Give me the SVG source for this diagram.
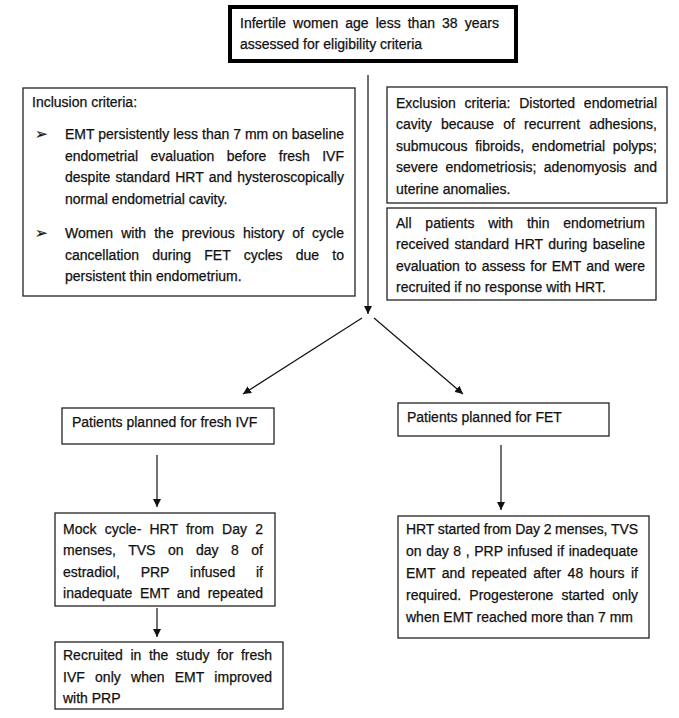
<svg xmlns="http://www.w3.org/2000/svg" width="679" height="718" viewBox="0 0 679 718">
<style>
text{font-family:"Liberation Sans",Arial,sans-serif;font-size:14px;fill:#111;stroke:#111;stroke-width:0.25}
.b{font-family:"DejaVu Sans",sans-serif;font-size:15px}
.box{fill:#fff;stroke:#222;stroke-width:1.3}
.thick{fill:#fff;stroke:#000;stroke-width:4}
.c{stroke:#111;stroke-width:1.2;fill:none}
</style>
<defs>
<marker id="ah" viewBox="0 0 10 10" refX="10" refY="5" markerWidth="8" markerHeight="8" markerUnits="userSpaceOnUse" orient="auto">
<path d="M0,0 L10,5 L0,10 z" fill="#111"/>
</marker>
</defs>
<rect width="679" height="718" fill="#fff"/>
<g id="connectors">
<line class="c" x1="368" y1="75" x2="368" y2="314" marker-end="url(#ah)"/>
<line class="c" x1="362" y1="318" x2="243" y2="394" marker-end="url(#ah)"/>
<line class="c" x1="374" y1="318" x2="463" y2="394" marker-end="url(#ah)"/>
<line class="c" x1="157" y1="455" x2="157" y2="507" marker-end="url(#ah)"/>
<line class="c" x1="157" y1="608" x2="157" y2="637" marker-end="url(#ah)"/>
<line class="c" x1="501" y1="445" x2="501" y2="510" marker-end="url(#ah)"/>
</g>
<g id="start">
<rect class="thick" x="230" y="7" width="286" height="54"/>
<text x="240" y="28" word-spacing="3.2" textLength="259" lengthAdjust="spacing">Infertile women age less than 38 years</text>
<text x="240" y="49">assessed for eligibility criteria</text>
</g>
<g id="inclusion">
<rect class="box" x="23" y="88" width="332" height="208"/>
<text x="32" y="107">Inclusion criteria:</text>
<text class="b" x="35" y="139">➢</text>
<text x="65" y="139" textLength="279" lengthAdjust="spacing">EMT persistently less than 7 mm on baseline</text>
<text x="65" y="161" word-spacing="8.5" textLength="279" lengthAdjust="spacing">endometrial evaluation before fresh IVF</text>
<text x="65" y="182" word-spacing="1.3" textLength="279" lengthAdjust="spacing">despite standard HRT and hysteroscopically</text>
<text x="65" y="204">normal endometrial cavity.</text>
<text class="b" x="35" y="238">➢</text>
<text x="65" y="238" word-spacing="4.2" textLength="279" lengthAdjust="spacing">Women with the previous history of cycle</text>
<text x="65" y="260" word-spacing="9.3" textLength="279" lengthAdjust="spacing">cancellation during FET cycles due to</text>
<text x="65" y="281">persistent thin endometrium.</text>
</g>
<g id="exclusion">
<rect class="box" x="387" y="87" width="280" height="116"/>
<text x="396" y="108" word-spacing="4.8" textLength="261" lengthAdjust="spacing">Exclusion criteria: Distorted endometrial</text>
<text x="396" y="129" word-spacing="5.3" textLength="261" lengthAdjust="spacing">cavity because of recurrent adhesions,</text>
<text x="396" y="151" word-spacing="3.7" textLength="261" lengthAdjust="spacing">submucous fibroids, endometrial polyps;</text>
<text x="396" y="172" word-spacing="3.5" textLength="261" lengthAdjust="spacing">severe endometriosis; adenomyosis and</text>
<text x="396" y="194">uterine anomalies.</text>
</g>
<g id="hrt-note">
<rect class="box" x="387" y="208" width="269" height="92"/>
<text x="396" y="228" word-spacing="9.9" textLength="249" lengthAdjust="spacing">All patients with thin endometrium</text>
<text x="396" y="249" word-spacing="1.6" textLength="249" lengthAdjust="spacing">received standard HRT during baseline</text>
<text x="396" y="271" word-spacing="1.2" textLength="249" lengthAdjust="spacing">evaluation to assess for EMT and were</text>
<text x="396" y="292">recruited if no response with HRT.</text>
</g>
<g id="fresh-ivf">
<rect class="box" x="62" y="408" width="212" height="36"/>
<text x="72" y="427">Patients planned for fresh IVF</text>
</g>
<g id="fet">
<rect class="box" x="398" y="403" width="211" height="33"/>
<text x="407" y="422">Patients planned for FET</text>
</g>
<g id="mock-cycle">
<rect class="box" x="55" y="513" width="220" height="93"/>
<text x="63" y="534" word-spacing="4.2" textLength="200" lengthAdjust="spacing">Mock cycle- HRT from Day 2</text>
<text x="63" y="555" word-spacing="8.6" textLength="200" lengthAdjust="spacing">menses, TVS on day 8 of</text>
<text x="63" y="577" word-spacing="16.9" textLength="200" lengthAdjust="spacing">estradiol, PRP infused if</text>
<text x="63" y="598" word-spacing="3.6" textLength="200" lengthAdjust="spacing">inadequate EMT and repeated</text>
</g>
<g id="recruited">
<rect class="box" x="55" y="642" width="228" height="67"/>
<text x="63" y="660" word-spacing="3.7" textLength="209" lengthAdjust="spacing">Recruited in the study for fresh</text>
<text x="63" y="682" word-spacing="6.35" textLength="209" lengthAdjust="spacing">IVF only when EMT improved</text>
<text x="63" y="703">with PRP</text>
</g>
<g id="fet-protocol">
<rect class="box" x="398" y="516" width="251" height="122"/>
<text x="406" y="534" textLength="232" lengthAdjust="spacing">HRT started from Day 2 menses, TVS</text>
<text x="406" y="556" word-spacing="0.7" textLength="232" lengthAdjust="spacing">on day 8 , PRP infused if inadequate</text>
<text x="406" y="578" word-spacing="2.5" textLength="232" lengthAdjust="spacing">EMT and repeated after 48 hours if</text>
<text x="406" y="600" word-spacing="4.2" textLength="232" lengthAdjust="spacing">required. Progesterone started only</text>
<text x="406" y="622">when EMT reached more than 7 mm</text>
</g>
</svg>
